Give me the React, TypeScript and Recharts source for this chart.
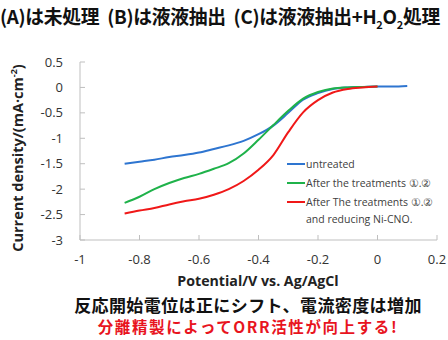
import { LineChart, Line, XAxis, YAxis, Legend } from 'recharts';

// potential sweep (V vs. Ag/AgCl)
const potential = [
  -0.85, -0.8, -0.75, -0.7, -0.65, -0.6, -0.55, -0.5, -0.45, -0.4,
  -0.35, -0.3, -0.25, -0.2, -0.15, -0.1, -0.05, 0, 0.05, 0.1,
];

// current density (mA/cm2)
const untreated = [
  -1.5, -1.46, -1.42, -1.37, -1.33, -1.28, -1.21, -1.14, -1.05, -0.92,
  -0.75, -0.5, -0.24, -0.11, -0.03, 0, 0.01, 0.02, 0.02, 0.03,
];
const treated = [
  -2.27, -2.15, -2.0, -1.88, -1.78, -1.7, -1.6, -1.49, -1.3, -1.03,
  -0.74, -0.46, -0.22, -0.09, -0.02, 0, 0.01, 0.02, null, null,
];
const treatedReduced = [
  -2.48, -2.42, -2.37, -2.3, -2.24, -2.19, -2.11, -2.0, -1.84, -1.62,
  -1.33, -0.88, -0.49, -0.25, -0.1, -0.03, 0, 0.02, null, null,
];

const xTicks = [-1, -0.8, -0.6, -0.4, -0.2, 0, 0.2];
const yTicks = [-3, -2.5, -2, -1.5, -1, -0.5, 0, 0.5];

const series = [
  { key: 'untreated', color: '#2e75d0', label: ['untreated'] },
  { key: 'treated', color: '#1fb24a', label: ['After the treatments ①.②'] },
  { key: 'treatedReduced', color: '#f01818', label: ['After The treatments ①.②', 'and reducing Ni-CNO.'] },
];

const data = potential.map((v, i) => ({
  v,
  untreated: untreated[i],
  treated: treated[i],
  treatedReduced: treatedReduced[i],
}));

const jp = '"Noto Sans CJK JP", sans-serif';
const axisFont = '"Open Sans", "Noto Sans", sans-serif';
const frame = '#bfbfbf';

function LegendBox() {
  return (
    <div style={{ fontFamily: axisFont, fontSize: 10.5, color: '#404040', textAlign: 'left' }}>
      {series.map((s) => (
        <div key={s.key}>
          {s.label.map((t, i) => (
            <div key={t} style={{ display: 'flex', alignItems: 'center', height: i ? 15 : 19 }}>
              <span style={{ width: 18, height: 2, background: i ? 'transparent' : s.color, marginRight: 1 }} />
              <span style={{ whiteSpace: 'nowrap' }}>{t}</span>
            </div>
          ))}
        </div>
      ))}
    </div>
  );
}

export default function App() {
  return (
    <div style={{ position: 'relative', width: 448, height: 340, background: '#fff', overflow: 'hidden' }}>
      <style>{'body{margin:0}'}</style>
      <div
        style={{
          position: 'absolute', left: 0, top: 4, fontFamily: jp, fontWeight: 700, fontSize: 18.8,
          color: '#111', whiteSpace: 'pre', letterSpacing: -0.3, lineHeight: 1.3,
        }}
      >
        (A)は未処理  (B)は液液抽出  (C)は液液抽出+H<sub style={{ fontSize: 11 }}>2</sub>O<sub style={{ fontSize: 11 }}>2</sub>処理
      </div>

      <div style={{ position: 'absolute', left: 0, top: 0 }}>
        <LineChart width={448} height={300} data={data} margin={{ top: 62, right: 11, bottom: 30, left: 10 }}>
          <XAxis
            dataKey="v"
            type="number"
            domain={[-1, 0.2]}
            ticks={xTicks}
            tickFormatter={(t: number) => String(Math.round(t * 10) / 10)}
            height={30}
            tickSize={-5}
            tickMargin={20}
            stroke={frame}
            tick={{ fill: '#333', fontSize: 13, fontFamily: axisFont }}
          />
          <XAxis xAxisId="top" orientation="top" dataKey="v" type="number" domain={[-1, 0.2]} height={0} tick={false} tickLine={false} stroke={frame} />
          <YAxis
            type="number"
            domain={[-3, 0.5]}
            ticks={yTicks}
            width={70}
            tickSize={-5}
            tickMargin={22}
            stroke={frame}
            tick={{ fill: '#333', fontSize: 13, fontFamily: axisFont }}
          />
          <YAxis yAxisId="right" orientation="right" domain={[-3, 0.5]} width={0} tick={false} tickLine={false} stroke={frame} />
          {series.map((s) => (
            <Line
              key={s.key}
              dataKey={s.key}
              stroke={s.color}
              strokeWidth={2}
              dot={false}
              type="monotone"
              connectNulls={false}
              isAnimationActive={false}
            />
          ))}
          <Legend
            layout="horizontal"
            verticalAlign="middle"
            align="center"
            wrapperStyle={{ left: 287, top: 154, width: 160 }}
            content={() => <LegendBox />}
          />
        </LineChart>
      </div>

      <div
        style={{
          position: 'absolute', left: 17, top: 158, transform: 'translate(-50%, -50%) rotate(-90deg)',
          fontFamily: axisFont, fontWeight: 700, fontSize: 14.5, color: '#222', whiteSpace: 'nowrap',
        }}
      >
        Current density/(mA·cm<sup style={{ fontSize: 9 }}>-2</sup>)
      </div>
      <div
        style={{
          position: 'absolute', left: 258, top: 280, transform: 'translate(-50%, -50%)',
          fontFamily: axisFont, fontWeight: 700, fontSize: 14.2, color: '#222', whiteSpace: 'nowrap',
        }}
      >
        Potential/V vs. Ag/AgCl
      </div>
      <div
        style={{
          position: 'absolute', left: 248, top: 304, transform: 'translate(-50%, -50%)',
          fontFamily: jp, fontWeight: 700, fontSize: 17, letterSpacing: 0.4, color: '#111',
          whiteSpace: 'nowrap', lineHeight: 1,
        }}
      >
        反応開始電位は正にシフト、電流密度は増加
      </div>
      <div
        style={{
          position: 'absolute', left: 248, top: 327, transform: 'translate(-50%, -50%)',
          fontFamily: jp, fontWeight: 700, fontSize: 15.5, color: '#e8141e', whiteSpace: 'nowrap',
          lineHeight: 1, letterSpacing: 1.6,
        }}
      >
        分離精製によってORR活性が向上する!
      </div>
    </div>
  );
}
